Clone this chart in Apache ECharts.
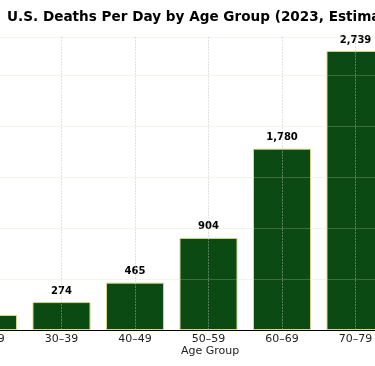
<!DOCTYPE html>
<html><head><meta charset="utf-8">
<script src="https://cdn.jsdelivr.net/npm/echarts@6/dist/echarts.min.js"></script>
<style>html,body{margin:0;padding:0;overflow:hidden;width:375px;height:366px;background:#fff}
#c{position:absolute;left:-100px;top:0;width:575px;height:366px}</style>
</head><body><div id="c"></div>
<script>
const categories = ['20–29','30–39','40–49','50–59','60–69','70–79'];
const deathsPerDay = [147, 274, 465, 904, 1780, 2739];
const yTicks = [0, 500, 1000, 1500, 2000, 2500];
const titleText = 'U.S. Deaths Per Day by Age Group (2023, Estimated)';
const xName = 'Age Group';

const font = '"DejaVu Sans", sans-serif';
const chart = echarts.init(document.getElementById('c'), null, {renderer:'canvas'});
chart.setOption({
  animation: false,
  title: {text: titleText, left: 102, top: 5,
    textStyle: {fontFamily: font, fontWeight: 'bold', fontSize: 13.6, color: '#000'}},
  grid: {left: 51.25, width: 441, top: 37, bottom: 36},
  xAxis: {type: 'category', data: categories, z: 10,
    axisLine: {lineStyle: {color: '#000', width: 1}},
    axisTick: {show: false},
    axisLabel: {fontFamily: font, fontSize: 11, color: '#222', margin: 4},
    splitLine: {show: true, alignWithLabel: true, lineStyle: {color: 'rgba(190,190,190,0.45)', width: 1, type: [2,1]}}
  },
  yAxis: {type: 'value', min: 0, max: 2876, interval: 500, z: 10,
    axisLine: {show: false}, axisTick: {show: false},
    axisLabel: {show: false},
    splitLine: {lineStyle: {color: 'rgba(215,210,180,0.25)', width: 1}}
  },
  series: [{type: 'bar', data: deathsPerDay, barWidth: 58,
    itemStyle: {color: '#0b4a13', borderColor: '#d6d48e', borderWidth: 1},
    label: {show: true, position: 'top', distance: 6,
      formatter: p => p.value.toLocaleString('en-US'),
      fontFamily: font, fontWeight: 'bold', fontSize: 10, color: '#000'}
  }],
  graphic: [{type: 'text', left: 281, top: 346,
    style: {text: xName, font: '11px "DejaVu Sans", sans-serif', fill: '#222'}}]
});
</script></body></html>
